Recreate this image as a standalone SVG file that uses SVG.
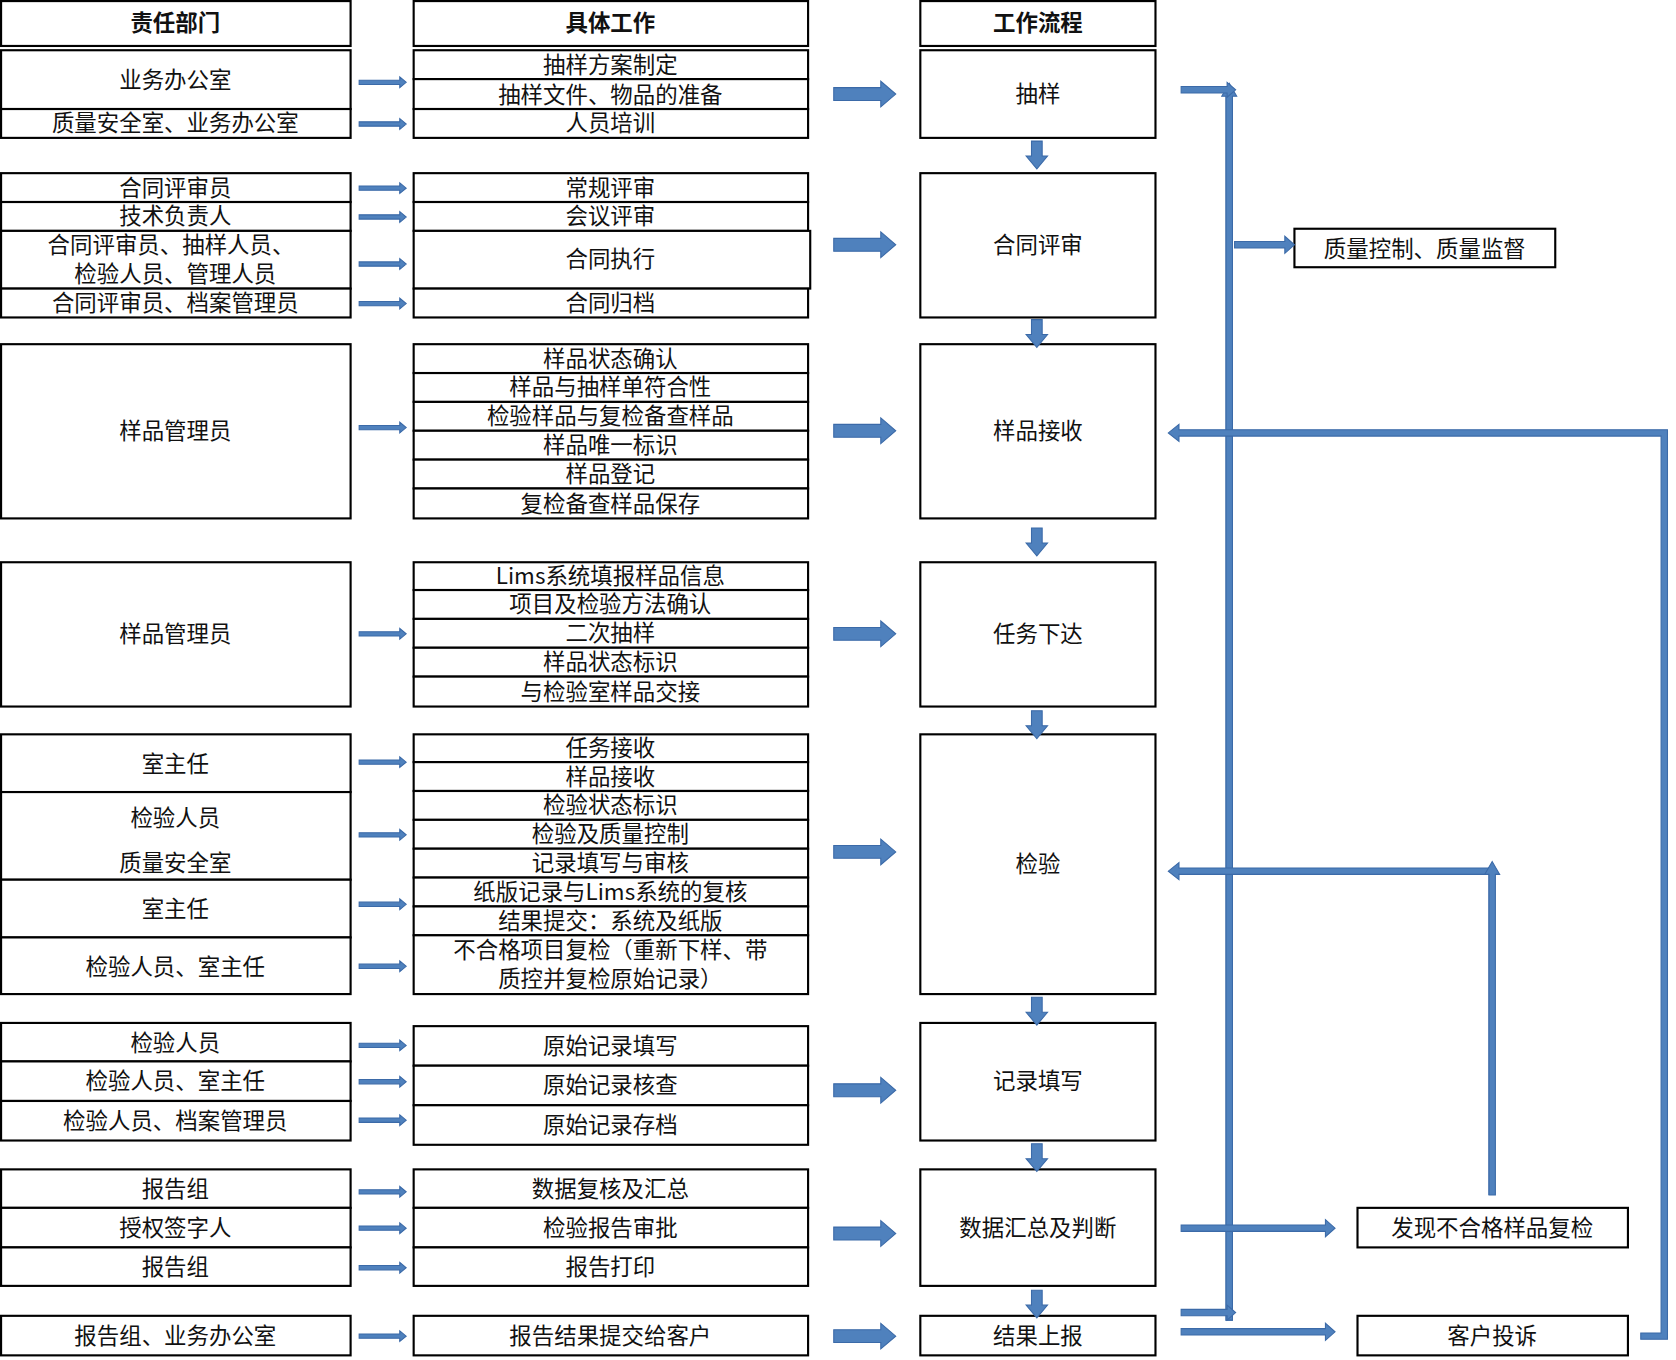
<svg xmlns="http://www.w3.org/2000/svg" width="1676" height="1360" viewBox="0 0 1676 1360">
<style>
.b{fill:#fff;stroke:#000;stroke-width:2}
.t{font-family:"Noto Sans CJK SC","Liberation Sans",sans-serif;font-size:21px;text-anchor:middle;fill:#111}
.h{font-weight:bold}
.a{fill:#4f81bd;stroke:#3b6aa8;stroke-width:1}
</style>
<defs>
<path id="sa" class="a" d="M0,-2H38V-5L44,0L38,5V2H0Z"/>
<path id="ba" class="a" d="M0,-6H44V-12L58,0L44,12V6H0Z"/>
<path id="da" class="a" d="M-5,0V14H-10L0,26L10,14H5V0Z"/>
</defs>
<rect width="1676" height="1360" fill="#fff"/>
<g transform="scale(1.0689)">
<g id="headers">
<rect class="b" x="1" y="1" width="327" height="42"/><text class="t h" x="164" y="29">责任部门</text>
<rect class="b" x="387" y="1" width="369" height="42"/><text class="t h" x="571" y="29">具体工作</text>
<rect class="b" x="861" y="1" width="220" height="42"/><text class="t h" x="971" y="29">工作流程</text>
</g>
<g id="g1">
<rect class="b" x="1" y="47" width="327" height="55"/><text class="t" x="164" y="82">业务办公室</text>
<rect class="b" x="1" y="102" width="327" height="27"/><text class="t" x="164" y="123">质量安全室、业务办公室</text>
<rect class="b" x="387" y="47" width="369" height="27"/><text class="t" x="571" y="68">抽样方案制定</text>
<rect class="b" x="387" y="74" width="369" height="28"/><text class="t" x="571" y="96">抽样文件、物品的准备</text>
<rect class="b" x="387" y="102" width="369" height="27"/><text class="t" x="571" y="123">人员培训</text>
<rect class="b" x="861" y="47" width="220" height="82"/><text class="t" x="971" y="95">抽样</text>
</g>
<g id="g2">
<rect class="b" x="1" y="162" width="327" height="27"/><text class="t" x="164" y="183">合同评审员</text>
<rect class="b" x="1" y="189" width="327" height="27"/><text class="t" x="164" y="210">技术负责人</text>
<rect class="b" x="1" y="216" width="327" height="54"/><text class="t" x="160" y="237">合同评审员、抽样人员、</text><text class="t" x="164" y="264">检验人员、管理人员</text>
<rect class="b" x="1" y="270" width="327" height="27"/><text class="t" x="164" y="291">合同评审员、档案管理员</text>
<rect class="b" x="387" y="162" width="369" height="27"/><text class="t" x="571" y="183">常规评审</text>
<rect class="b" x="387" y="189" width="369" height="27"/><text class="t" x="571" y="210">会议评审</text>
<rect class="b" x="387" y="216" width="371" height="54"/><text class="t" x="571" y="250">合同执行</text>
<rect class="b" x="387" y="270" width="369" height="27"/><text class="t" x="571" y="291">合同归档</text>
<rect class="b" x="861" y="162" width="220" height="135"/><text class="t" x="971" y="237">合同评审</text>
</g>
<g id="g3">
<rect class="b" x="1" y="322" width="327" height="163"/><text class="t" x="164" y="411">样品管理员</text>
<rect class="b" x="387" y="322" width="369" height="27"/><text class="t" x="571" y="343">样品状态确认</text>
<rect class="b" x="387" y="349" width="369" height="27"/><text class="t" x="571" y="370">样品与抽样单符合性</text>
<rect class="b" x="387" y="376" width="369" height="27"/><text class="t" x="571" y="397">检验样品与复检备查样品</text>
<rect class="b" x="387" y="403" width="369" height="27"/><text class="t" x="571" y="424">样品唯一标识</text>
<rect class="b" x="387" y="430" width="369" height="27"/><text class="t" x="571" y="451">样品登记</text>
<rect class="b" x="387" y="457" width="369" height="28"/><text class="t" x="571" y="479">复检备查样品保存</text>
<rect class="b" x="861" y="322" width="220" height="163"/><text class="t" x="971" y="411">样品接收</text>
</g>
<g id="g4">
<rect class="b" x="1" y="526" width="327" height="135"/><text class="t" x="164" y="601">样品管理员</text>
<rect class="b" x="387" y="526" width="369" height="26"/><text class="t" x="571" y="546">Lims系统填报样品信息</text>
<rect class="b" x="387" y="552" width="369" height="27"/><text class="t" x="571" y="573">项目及检验方法确认</text>
<rect class="b" x="387" y="579" width="369" height="27"/><text class="t" x="571" y="600">二次抽样</text>
<rect class="b" x="387" y="606" width="369" height="27"/><text class="t" x="571" y="627">样品状态标识</text>
<rect class="b" x="387" y="633" width="369" height="28"/><text class="t" x="571" y="655">与检验室样品交接</text>
<rect class="b" x="861" y="526" width="220" height="135"/><text class="t" x="971" y="601">任务下达</text>
</g>
<g id="g5">
<rect class="b" x="1" y="687" width="327" height="54"/><text class="t" x="164" y="722">室主任</text>
<rect class="b" x="1" y="741" width="327" height="82"/><text class="t" x="164" y="773">检验人员</text><text class="t" x="164" y="815">质量安全室</text>
<rect class="b" x="1" y="823" width="327" height="54"/><text class="t" x="164" y="858">室主任</text>
<rect class="b" x="1" y="877" width="327" height="53"/><text class="t" x="164" y="912">检验人员、室主任</text>
<rect class="b" x="387" y="687" width="369" height="26"/><text class="t" x="571" y="707">任务接收</text>
<rect class="b" x="387" y="713" width="369" height="27"/><text class="t" x="571" y="734">样品接收</text>
<rect class="b" x="387" y="740" width="369" height="27"/><text class="t" x="571" y="761">检验状态标识</text>
<rect class="b" x="387" y="767" width="369" height="27"/><text class="t" x="571" y="788">检验及质量控制</text>
<rect class="b" x="387" y="794" width="369" height="27"/><text class="t" x="571" y="815">记录填写与审核</text>
<rect class="b" x="387" y="821" width="369" height="27"/><text class="t" x="571" y="842">纸版记录与Lims系统的复核</text>
<rect class="b" x="387" y="848" width="369" height="27"/><text class="t" x="571" y="869">结果提交：系统及纸版</text>
<rect class="b" x="387" y="875" width="369" height="55"/><text class="t" x="571" y="896">不合格项目复检（重新下样、带</text><text class="t" x="571" y="923">质控并复检原始记录）</text>
<rect class="b" x="861" y="687" width="220" height="243"/><text class="t" x="971" y="816">检验</text>
</g>
<g id="g6">
<rect class="b" x="1" y="957" width="327" height="36"/><text class="t" x="164" y="983">检验人员</text>
<rect class="b" x="1" y="993" width="327" height="37"/><text class="t" x="164" y="1019">检验人员、室主任</text>
<rect class="b" x="1" y="1030" width="327" height="37"/><text class="t" x="164" y="1056">检验人员、档案管理员</text>
<rect class="b" x="387" y="960" width="369" height="37"/><text class="t" x="571" y="986">原始记录填写</text>
<rect class="b" x="387" y="997" width="369" height="37"/><text class="t" x="571" y="1023">原始记录核查</text>
<rect class="b" x="387" y="1034" width="369" height="37"/><text class="t" x="571" y="1060">原始记录存档</text>
<rect class="b" x="861" y="957" width="220" height="110"/><text class="t" x="971" y="1019">记录填写</text>
</g>
<g id="g7">
<rect class="b" x="1" y="1094" width="327" height="36"/><text class="t" x="164" y="1120">报告组</text>
<rect class="b" x="1" y="1130" width="327" height="37"/><text class="t" x="164" y="1156">授权签字人</text>
<rect class="b" x="1" y="1167" width="327" height="36"/><text class="t" x="164" y="1193">报告组</text>
<rect class="b" x="387" y="1094" width="369" height="36"/><text class="t" x="571" y="1120">数据复核及汇总</text>
<rect class="b" x="387" y="1130" width="369" height="37"/><text class="t" x="571" y="1156">检验报告审批</text>
<rect class="b" x="387" y="1167" width="369" height="36"/><text class="t" x="571" y="1193">报告打印</text>
<rect class="b" x="861" y="1094" width="220" height="109"/><text class="t" x="971" y="1156">数据汇总及判断</text>
</g>
<g id="g8">
<rect class="b" x="1" y="1231" width="327" height="37"/><text class="t" x="164" y="1257">报告组、业务办公室</text>
<rect class="b" x="387" y="1231" width="369" height="37"/><text class="t" x="571" y="1257">报告结果提交给客户</text>
<rect class="b" x="861" y="1231" width="220" height="37"/><text class="t" x="971" y="1257">结果上报</text>
</g>
<g id="side">
<rect class="b" x="1211" y="214" width="244" height="36"/><text class="t" x="1333" y="240">质量控制、质量监督</text>
<rect class="b" x="1270" y="1130" width="253" height="37"/><text class="t" x="1396" y="1156">发现不合格样品复检</text>
<rect class="b" x="1270" y="1231" width="253" height="37"/><text class="t" x="1396" y="1257">客户投诉</text>
</g>
<g id="connectors">
<use href="#sa" x="336" y="77"/><use href="#sa" x="336" y="116"/>
<use href="#sa" x="336" y="176"/><use href="#sa" x="336" y="203"/><use href="#sa" x="336" y="247"/><use href="#sa" x="336" y="284"/>
<use href="#sa" x="336" y="400"/><use href="#sa" x="336" y="593"/>
<use href="#sa" x="336" y="713"/><use href="#sa" x="336" y="781"/><use href="#sa" x="336" y="846"/><use href="#sa" x="336" y="904"/>
<use href="#sa" x="336" y="978"/><use href="#sa" x="336" y="1012"/><use href="#sa" x="336" y="1048"/>
<use href="#sa" x="336" y="1115"/><use href="#sa" x="336" y="1149"/><use href="#sa" x="336" y="1186"/>
<use href="#sa" x="336" y="1250"/>
<use href="#ba" x="780" y="88"/><use href="#ba" x="780" y="229"/><use href="#ba" x="780" y="403"/><use href="#ba" x="780" y="593"/><use href="#ba" x="780" y="797"/><use href="#ba" x="780" y="1020"/><use href="#ba" x="780" y="1154"/><use href="#ba" x="780" y="1250"/>
<use href="#da" x="970" y="132"/><use href="#da" x="970" y="299"/><use href="#da" x="970" y="494"/><use href="#da" x="970" y="665"/><use href="#da" x="970" y="933"/><use href="#da" x="970" y="1070"/><use href="#da" x="970" y="1207"/>
<path class="a" d="M1105,81H1147V1235H1153V82Z"/>
<path class="a" d="M1147,1235V90H1143L1150,78L1157,90H1153V1235Z"/>
<path class="a" d="M1105,81H1148V77L1156,84L1148,91V87H1105Z"/>
<path class="a" d="M1105,1225H1148V1221L1156,1228L1148,1235V1231H1105Z"/>
<path class="a" d="M1155,226H1202V221L1211,229L1202,237V232H1155Z"/>
<path class="a" d="M1105,1146H1240V1141L1249,1149L1240,1157V1152H1105Z"/>
<path class="a" d="M1105,1243H1240V1238L1249,1246L1240,1254V1249H1105Z"/>
<path class="a" d="M1393,1118V818H1103V823L1093,815L1103,807V812H1393V815Z"/>
<path class="a" d="M1393,1118V818H1389L1396,806L1403,818H1399V1118Z"/>
<path class="a" d="M1535,1247H1554V408H1103V413L1093,405L1103,397V402H1560V1253H1535Z"/>
</g>
</g>
</svg>
